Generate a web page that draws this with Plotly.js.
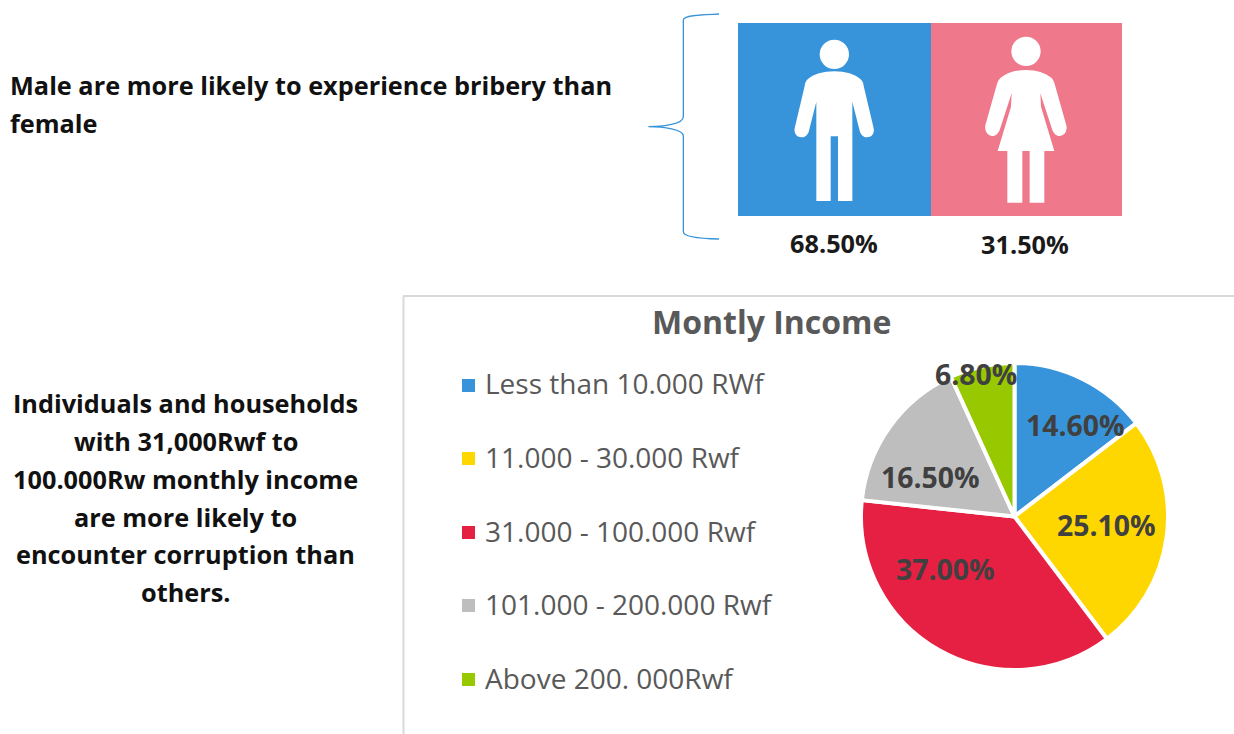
<!DOCTYPE html>
<html>
<head>
<meta charset="utf-8">
<script src="https://cdn.plot.ly/plotly-3.0.1.min.js"></script>
<style>html,body{margin:0;padding:0;background:#fff;overflow:hidden}#chart{width:1234px;height:734px}</style>
</head>
<body>
<div id="chart"></div>
<script>
const incomeCategories = ["Less than 10.000 RWf","11.000 - 30.000 Rwf","31.000 - 100.000 Rwf","101.000 - 200.000 Rwf","Above 200. 000Rwf"];
const incomeValues = [14.6, 25.1, 37.0, 16.5, 6.8];
const incomeColors = ["#3894DA","#FFD700","#E62042","#BEBEBE","#98C800"];
const incomeLabels = ["14.60%","25.10%","37.00%","16.50%","6.80%"];
const genderLabels = ["68.50%","31.50%"];
const genderColors = ["#3894DA","#EF798B"];
const topNote = ["Male are more likely to experience bribery than","female"];
const sideNote = ["Individuals and households","with 31,000Rwf to","100.000Rw monthly income","are more likely to","encounter corruption than","others."];
const chartTitle = "Montly Income";

const W = 1234, H = 734;
const px = x => x / W, py = y => 1 - y / H;
const ann = (text, x, y, size, color, bold, anchor) => ({
  text: bold ? "<b>" + text + "</b>" : text, x: px(x), y: py(y), xref: "paper", yref: "paper",
  xanchor: anchor || "center", yanchor: "middle", showarrow: false,
  font: {family: "'Open Sans', sans-serif", size: size, color: color}
});
const rect = (x0, y0, x1, y1, color) => ({type: "rect", xref: "paper", yref: "paper",
  x0: px(x0), x1: px(x1), y0: py(y0), y1: py(y1), fillcolor: color, line: {width: 0}});
const zx = x => px(640 + x / 3), zy = y => py(y / 3);
const zpath = s => s.replace(/(-?[\d.]+),(-?[\d.]+)/g, (m, a, b) => zx(+a) + "," + zy(+b));
const pathShape = (d, fill, line) => ({type: "path", xref: "paper", yref: "paper", path: zpath(d),
  fillcolor: fill, line: line || {width: 0}});
const circle = (cx, cy, r) => ({type: "circle", xref: "paper", yref: "paper",
  x0: zx(cx - r), x1: zx(cx + r), y0: zy(cy + r), y1: zy(cy - r), fillcolor: "#fff", line: {width: 0}});

const maleBody = "M583,214 C550,214 520,222 503,238 C497,244 495,250 494,258 L464,385 C461,402 472,412 485,412 C496,412 504,404 507,392 L529,305 L529,603 L572,603 L572,409 L594,409 L594,603 L637,603 L637,305 L659,392 C662,404 670,412 681,412 C694,412 704,402 701,385 L671,258 C670,250 668,244 662,238 C645,222 616,214 583,214 Z";
const femaleBody = "M1158,210 C1125,210 1100,220 1085,231 C1078,236 1074,243 1071,252 L1036,376 C1033,394 1044,408 1057,408 C1068,408 1075,400 1079,390 L1115,280 L1113,320 L1073,453 L1102,453 L1102,608 L1147,608 L1147,453 L1169,453 L1169,608 L1213,608 L1213,453 L1243,453 L1203,320 L1201,280 L1237,390 C1241,400 1248,408 1259,408 C1272,408 1283,394 1279,376 L1244,252 C1241,243 1238,236 1231,231 C1216,220 1191,210 1158,210 Z";
const brace = "M237,42 C200,44 130,44 130,60 L130,350 C130,372 70,380 25,380 C70,380 130,388 130,408 L130,695 C130,712 200,716 237,717";

const shapes = [
  rect(738, 23, 931, 216, genderColors[0]),
  rect(931, 23, 1122, 216, genderColors[1]),
  circle(583, 163, 44), pathShape(maleBody, "#fff"),
  circle(1158, 154, 44), pathShape(femaleBody, "#fff"),
  pathShape(brace, "rgba(0,0,0,0)", {color: "#3894DA", width: 1.3}),
  {type: "line", xref: "paper", yref: "paper", x0: px(403.5), x1: px(403.5), y0: py(296), y1: py(734), line: {color: "#D9D9D9", width: 2}},
  {type: "line", xref: "paper", yref: "paper", x0: px(403), x1: px(1234), y0: py(296), y1: py(296), line: {color: "#D9D9D9", width: 2}}
];

const legendY = [385, 458, 532, 605, 679];
incomeColors.forEach((c, i) => shapes.push(rect(462, legendY[i] - 6, 475, legendY[i] + 7, c)));

const annotations = [
  ann(topNote[0], 8, 85, 25.3, "#111", true, "left"),
  ann(topNote[1], 8, 123, 25.3, "#111", true, "left"),
  ann(genderLabels[0], 834, 243, 25.3, "#1a1a1a", true),
  ann(genderLabels[1], 1025, 244, 25.3, "#1a1a1a", true),
  ann(chartTitle, 771.5, 322, 32, "#595959", true)
];
const sideY = [403, 441, 479, 517, 554, 592];
sideNote.forEach((t, i) => annotations.push(ann(t, 185.5, sideY[i], 25.3, "#111", true)));
incomeCategories.forEach((t, i) => annotations.push(ann(t, 483, legendY[i] - (i === 0 ? 2 : 1), 28, "#595959", false, "left")));
const labelPos = [[1075, 425], [1106, 525], [945, 569], [930, 477], [976, 374]];
incomeLabels.forEach((t, i) => annotations.push(ann(t, labelPos[i][0], labelPos[i][1], 28.4, "#404040", true)));

const trace = {
  type: "pie", labels: incomeCategories, values: incomeValues, sort: false,
  direction: "clockwise", rotation: 0, textinfo: "none", hoverinfo: "label+percent",
  marker: {colors: incomeColors, line: {color: "#fff", width: 4}},
  domain: {x: [px(861), px(1168)], y: [py(670), py(363)]}
};
Plotly.newPlot("chart", [trace], {
  width: W, height: H, margin: {l: 0, r: 0, t: 0, b: 0}, showlegend: false,
  paper_bgcolor: "#fff", plot_bgcolor: "#fff", shapes, annotations
}, {displayModeBar: false, staticPlot: true});
</script>
</body>
</html>
